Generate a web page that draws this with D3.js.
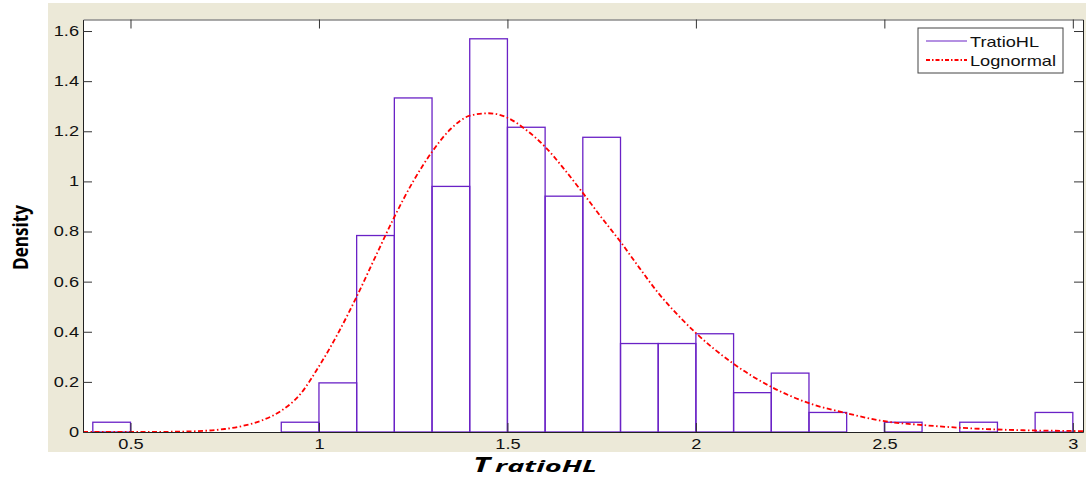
<!DOCTYPE html>
<html>
<head>
<meta charset="utf-8">
<script src="https://cdn.jsdelivr.net/npm/d3@7"></script>
<style>
  html, body { margin: 0; padding: 0; background: #ffffff; }
  svg { display: block; }
</style>
</head>
<body>
<svg id="chart" width="1086" height="484"></svg>
<script>
// Histogram bins of TratioHL (bin width 0.1) and their density heights
const binStarts = [0.4, 0.5, 0.6, 0.7, 0.8, 0.9, 1.0, 1.1, 1.2, 1.3, 1.4, 1.5, 1.6,
                   1.7, 1.8, 1.9, 2.0, 2.1, 2.2, 2.3, 2.4, 2.5, 2.6, 2.7, 2.8, 2.9];
const binWidth = 0.1;
const densities = [0.039, 0, 0, 0, 0, 0.039, 0.196, 0.784, 1.333, 0.980, 1.569, 1.216, 0.941,
                   1.176, 0.353, 0.353, 0.392, 0.157, 0.235, 0.078, 0, 0.039, 0, 0.039, 0, 0.078];

// Fitted lognormal density, sampled along x
const curveX = [0.374, 0.40, 0.50, 0.60, 0.70, 0.75, 0.80, 0.85, 0.90, 0.95, 1.00, 1.05, 1.10,
                1.15, 1.20, 1.25, 1.30, 1.35, 1.40, 1.45, 1.50, 1.55, 1.60, 1.65, 1.70, 1.75,
                1.80, 1.85, 1.90, 1.95, 2.00, 2.10, 2.20, 2.30, 2.40, 2.50, 2.60, 2.70, 2.80,
                2.90, 3.00, 3.027];
const curveY = [0.000, 0.000, 0.000, 0.0008, 0.005, 0.012, 0.025, 0.047, 0.085, 0.150, 0.262,
                0.392, 0.540, 0.700, 0.858, 1.000, 1.118, 1.210, 1.262, 1.272, 1.254, 1.205,
                1.138, 1.050, 0.954, 0.855, 0.759, 0.655, 0.555, 0.470, 0.395, 0.272, 0.180,
                0.115, 0.075, 0.043, 0.028, 0.017, 0.010, 0.006, 0.004, 0.003];

// Axis ticks
const xTicks = [0.5, 1, 1.5, 2, 2.5, 3];
const xTickLabels = ["0.5", "1", "1.5", "2", "2.5", "3"];
const yTicks = [0, 0.2, 0.4, 0.6, 0.8, 1.0, 1.2, 1.4, 1.6];
const yTickLabels = ["0", "0.2", "0.4", "0.6", "0.8", "1", "1.2", "1.4", "1.6"];

const legendLabels = ["TratioHL", "Lognormal"];

const svg = d3.select("#chart");
const plot = { left: 83, top: 19.5, right: 1083, bottom: 432 };

const x = d3.scaleLinear().domain([0.374, 3.027]).range([plot.left, plot.right]);
const y = d3.scaleLinear().domain([0, 1.646]).range([plot.bottom, plot.top]);

const purple = "#6a22c6";
const red = "#ff0000";
const tickFont = "'Liberation Sans', Arial, Helvetica, sans-serif";

// widen text glyphs horizontally
function stretch(sel, k) {
  sel.each(function () {
    const w = this.getComputedTextLength();
    this.setAttribute("textLength", w * k);
    this.setAttribute("lengthAdjust", "spacingAndGlyphs");
  });
}
function fitTo(sel, len) {
  sel.attr("textLength", len).attr("lengthAdjust", "spacingAndGlyphs");
}

// figure background
svg.append("rect").attr("x", 48).attr("y", 3).attr("width", 1038).attr("height", 449)
  .attr("fill", "#ECE9D8");
svg.append("rect").attr("x", plot.left).attr("y", plot.top)
  .attr("width", plot.right - plot.left).attr("height", plot.bottom - plot.top)
  .attr("fill", "#ffffff");

svg.append("clipPath").attr("id", "plotClip").append("rect")
  .attr("x", plot.left).attr("y", plot.top)
  .attr("width", plot.right - plot.left).attr("height", plot.bottom - plot.top);

// histogram bars
svg.append("g").attr("clip-path", "url(#plotClip)")
  .selectAll("rect").data(binStarts).join("rect")
  .attr("x", (d) => x(d))
  .attr("y", (d, i) => y(densities[i]))
  .attr("width", (d) => x(d + binWidth) - x(d))
  .attr("height", (d, i) => y(0) - y(densities[i]))
  .attr("fill", "none")
  .attr("stroke", purple)
  .attr("stroke-width", 1.3);

// lognormal fit curve
const line = d3.line()
  .x((d, i) => x(curveX[i]))
  .y((d) => y(d))
  .curve(d3.curveMonotoneX);
svg.append("path").attr("clip-path", "url(#plotClip)")
  .attr("d", line(curveY))
  .attr("fill", "none")
  .attr("stroke", red)
  .attr("stroke-width", 1.8)
  .attr("stroke-dasharray", "5,2.5,1.5,2.5");

// axes (ticks pointing inward, box on all four sides)
function styleAxis(g) {
  g.selectAll("path").attr("stroke", "#222").attr("stroke-width", 1);
  g.selectAll("line").attr("stroke", "#333").attr("stroke-width", 1);
  g.selectAll("text").attr("fill", "#111").style("font-family", tickFont).style("font-size", "14px");
}

const xAxis = svg.append("g").attr("transform", `translate(0,${plot.bottom})`)
  .call(d3.axisBottom(x).tickValues(xTicks).tickFormat((d, i) => xTickLabels[i])
    .tickSizeInner(-9).tickSizeOuter(0).tickPadding(7));
styleAxis(xAxis);
stretch(xAxis.selectAll("text"), 1.3);

const yAxis = svg.append("g").attr("transform", `translate(${plot.left},0)`)
  .call(d3.axisLeft(y).tickValues(yTicks).tickFormat((d, i) => yTickLabels[i])
    .tickSizeInner(-9).tickSizeOuter(0).tickPadding(4));
styleAxis(yAxis);
stretch(yAxis.selectAll("text"), 1.3);

const xTop = svg.append("g").attr("transform", `translate(0,${plot.top})`)
  .call(d3.axisTop(x).tickValues(xTicks).tickFormat("").tickSizeInner(-9).tickSizeOuter(0));
styleAxis(xTop);
xTop.select("path").attr("stroke", "#555");

const yRight = svg.append("g").attr("transform", `translate(${plot.right},0)`)
  .call(d3.axisRight(y).tickValues(yTicks).tickFormat("").tickSizeInner(-9).tickSizeOuter(0));
styleAxis(yRight);

// axis titles
svg.append("text")
  .attr("transform", "translate(28,237.5) rotate(-90)")
  .attr("text-anchor", "middle")
  .style("font-family", "'Open Sans', 'DejaVu Sans', sans-serif")
  .style("font-weight", "bold")
  .style("font-size", "22px")
  .attr("fill", "#000")
  .call(fitTo, 65)
  .text("Density");

svg.append("text")
  .attr("x", 473).attr("y", 472)
  .style("font-family", "'Open Sans', 'DejaVu Sans', sans-serif")
  .style("font-weight", "bold").style("font-style", "italic")
  .style("font-size", "22px")
  .attr("fill", "#000")
  .call(fitTo, 17)
  .text("T");
svg.append("text")
  .attr("x", 495).attr("y", 472)
  .style("font-family", "'Open Sans', 'DejaVu Sans', sans-serif")
  .style("font-weight", "bold").style("font-style", "italic")
  .style("font-size", "16px")
  .attr("fill", "#000")
  .call(fitTo, 102)
  .text("ratioHL");

// legend
const legend = svg.append("g");
legend.append("rect").attr("x", 918).attr("y", 28).attr("width", 145).attr("height", 45)
  .attr("fill", "#ffffff").attr("stroke", "#444").attr("stroke-width", 1);
const legendRows = [
  { label: legendLabels[0], color: purple, dash: null, len: 69 },
  { label: legendLabels[1], color: red, dash: "4,2,1.5,2", len: 86 }
];
legendRows.forEach((r, i) => {
  const ly = 41 + i * 19;
  legend.append("line").attr("x1", 926).attr("x2", 967).attr("y1", ly).attr("y2", ly)
    .attr("stroke", r.color).attr("stroke-width", r.dash ? 1.8 : 1.2)
    .attr("stroke-dasharray", r.dash);
  legend.append("text").attr("x", 970).attr("y", ly + 5.5)
    .style("font-family", tickFont).style("font-size", "15px").attr("fill", "#111")
    .call(fitTo, r.len)
    .text(r.label);
});
</script>
</body>
</html>
